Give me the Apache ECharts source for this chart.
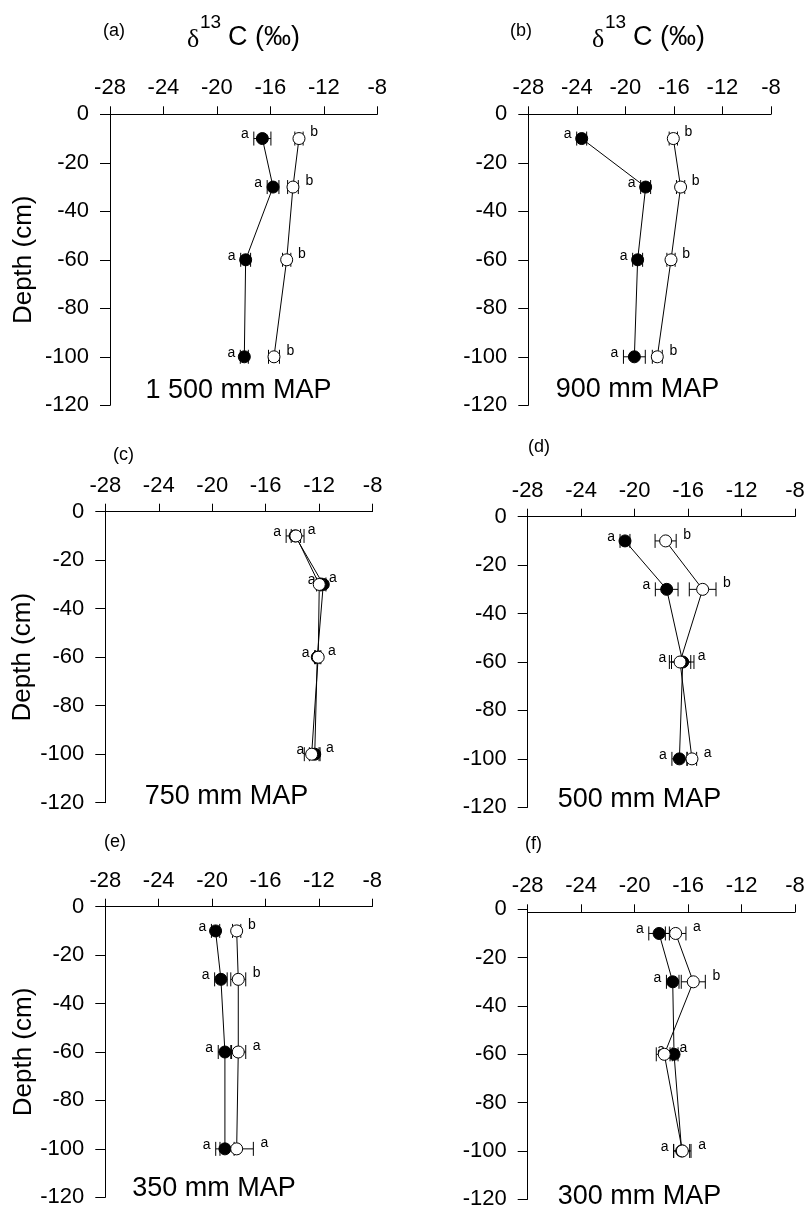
<!DOCTYPE html>
<html><head><meta charset="utf-8">
<script src="https://cdn.jsdelivr.net/npm/echarts@6/dist/echarts.min.js"></script>
<style>html,body{margin:0;padding:0;background:#fff}#c{width:806px;height:1211px}</style>
</head><body><div id="c"></div>
<script>
// ---------- DATA ----------
const depths = [-10, -30, -60, -100];
const panelIds = ['(a)', '(b)', '(c)', '(d)', '(e)', '(f)'];
const mapLabels = ['1 500 mm MAP', '900 mm MAP', '750 mm MAP', '500 mm MAP', '350 mm MAP', '300 mm MAP'];
const xMin = -28, xMax = -8, xStep = 4;
const yMin = -120, yMax = 0, yStep = 20;

// (a) 1500 mm MAP
const filledA = [-16.6, -15.8, -17.85, -17.95];
const filledErrA = [0.64, 0.44, 0.37, 0.3];
const openA = [-13.86, -14.31, -14.78, -15.73];
const openErrA = [0.31, 0.4, 0.31, 0.41];
const filledLetA = ['a', 'a', 'a', 'a'];
const openLetA = ['b', 'b', 'b', 'b'];
// (b) 900 mm MAP
const filledB = [-23.6, -18.33, -18.99, -19.26];
const filledErrB = [0.41, 0.41, 0.41, 0.9];
const openB = [-16.05, -15.45, -16.24, -17.37];
const openErrB = [0.34, 0.34, 0.34, 0.41];
const filledLetB = ['a', 'a', 'a', 'a'];
const openLetB = ['b', 'b', 'b', 'b'];
// (c) 750 mm MAP
const filledC = [-13.8, -11.69, -12.14, -12.33];
const filledErrC = [0.67, 0.2, 0.2, 0.4];
const openC = [-13.74, -11.99, -12.07, -12.56];
const openErrC = [0.35, 0.2, 0.2, 0.55];
const filledLetC = ['a', 'a', 'a', 'a'];
const openLetC = ['a', 'a', 'a', 'a'];
// (d) 500 mm MAP
const filledD = [-20.72, -17.6, -16.4, -16.65];
const filledErrD = [0.37, 0.85, 0.84, 0.56];
const openD = [-17.68, -14.91, -16.6, -15.71];
const openErrD = [0.79, 1.0, 0.8, 0.35];
const filledLetD = ['a', 'a', 'a', 'a'];
const openLetD = ['b', 'b', 'a', 'a'];
// (e) 350 mm MAP
const filledE = [-19.74, -19.34, -19.04, -19.04];
const filledErrE = [0.31, 0.47, 0.5, 0.69];
const openE = [-18.16, -18.04, -18.04, -18.16];
const openErrE = [0.31, 0.56, 0.56, 1.25];
const filledLetE = ['a', 'a', 'a', 'a'];
const openLetE = ['b', 'b', 'a', 'a'];
// (f) 300 mm MAP
const filledF = [-18.17, -17.15, -17.05, -16.48];
const filledErrF = [0.77, 0.47, 0.3, 0.6];
const openF = [-16.93, -15.61, -17.78, -16.43];
const openErrF = [0.77, 0.9, 0.6, 0.65];
const filledLetF = ['a', 'a', 'a', 'a'];
const openLetF = ['a', 'b', 'a', 'a'];

const panels = [
  {filled: filledA, fErr: filledErrA, open: openA, oErr: openErrA, fLet: filledLetA, oLet: openLetA},
  {filled: filledB, fErr: filledErrB, open: openB, oErr: openErrB, fLet: filledLetB, oLet: openLetB},
  {filled: filledC, fErr: filledErrC, open: openC, oErr: openErrC, fLet: filledLetC, oLet: openLetC},
  {filled: filledD, fErr: filledErrD, open: openD, oErr: openErrD, fLet: filledLetD, oLet: openLetD},
  {filled: filledE, fErr: filledErrE, open: openE, oErr: openErrE, fLet: filledLetE, oLet: openLetE},
  {filled: filledF, fErr: filledErrF, open: openF, oErr: openErrF, fLet: filledLetF, oLet: openLetF}
];

// ---------- LAYOUT ----------
const FONT = '"Liberation Sans", Arial, Helvetica, sans-serif';
const layout = [
  {left: 110, top: 114.3, width: 267.3, height: 291, idX: 103, idY: 32, title: 187, mapX: 238.5, mapY: 391, nameGap: 73},
  {left: 528.3, top: 114.3, width: 242.7, height: 291, idX: 510, idY: 32, title: 592, mapX: 637.5, mapY: 390},
  {left: 105.3, top: 511.7, width: 267.3, height: 291, idX: 113, idY: 456, mapX: 226.5, mapY: 797, nameGap: 69},
  {left: 527.7, top: 516.7, width: 267.3, height: 290.6, idX: 528, idY: 448, mapX: 639.5, mapY: 800},
  {left: 105.3, top: 906.7, width: 267, height: 290.6, idX: 104, idY: 843, mapX: 214, mapY: 1189, nameGap: 68},
  {left: 527.7, top: 909.3, width: 267.3, height: 290, idX: 525, idY: 845, mapX: 639.5, mapY: 1197, xOffset: -3}
];

function errRender(letters, side) {
  return function (params, api) {
    const v = api.value(0), d = api.value(1), e = api.value(2);
    const lo = api.coord([v - e, d]);
    const hi = api.coord([v + e, d]);
    const h = 7;
    const st = {stroke: '#000', lineWidth: 1};
    const lx = side < 0 ? lo[0] - 9 : hi[0] + 11;
    const ly = side < 0 ? lo[1] - 4 : hi[1] - 6;
    return {
      type: 'group',
      children: [
        {type: 'line', shape: {x1: lo[0], y1: lo[1], x2: hi[0], y2: hi[1]}, style: st},
        {type: 'line', shape: {x1: lo[0], y1: lo[1] - h, x2: lo[0], y2: lo[1] + h}, style: st},
        {type: 'line', shape: {x1: hi[0], y1: hi[1] - h, x2: hi[0], y2: hi[1] + h}, style: st},
        {type: 'text', style: {text: letters[params.dataIndex], x: lx, y: ly, fill: '#000',
          fontSize: 14, fontFamily: FONT, align: 'center', verticalAlign: 'middle'}}
      ]
    };
  };
}

const grid = [], xAxis = [], yAxis = [], series = [], graphic = [];
panels.forEach((p, i) => {
  const L = layout[i];
  grid.push({left: L.left, top: L.top, width: L.width, height: L.height, containLabel: false, outerBoundsMode: 'none'});
  xAxis.push({
    gridIndex: i, type: 'value', position: 'top', min: xMin, max: xMax, interval: xStep,
    offset: L.xOffset || 0,
    axisLine: {show: true, onZero: false, lineStyle: {color: '#000', width: 1}},
    axisTick: {show: true, length: 8, lineStyle: {color: '#000', width: 1}},
    axisLabel: {fontSize: 22, color: '#000', margin: 15, fontFamily: FONT},
    splitLine: {show: false}
  });
  yAxis.push({
    gridIndex: i, type: 'value', min: yMin, max: yMax, interval: yStep,
    axisLine: {show: true, onZero: false, lineStyle: {color: '#000', width: 1}},
    axisTick: {show: true, length: 10, lineStyle: {color: '#000', width: 1}},
    axisLabel: {fontSize: 22, color: '#000', margin: 21, fontFamily: FONT},
    splitLine: {show: false},
    name: L.nameGap ? 'Depth (cm)' : '',
    nameLocation: 'middle', nameRotate: 90, nameGap: L.nameGap || 0,
    nameTextStyle: {fontSize: 26, color: '#000', fontFamily: FONT}
  });
  const fData = p.filled.map((v, k) => [v, depths[k], p.fErr[k]]);
  const oData = p.open.map((v, k) => [v, depths[k], p.oErr[k]]);
  series.push({type: 'custom', xAxisIndex: i, yAxisIndex: i, z: 1, silent: true,
    renderItem: errRender(p.fLet, -1), data: fData, encode: {x: 0, y: 1}});
  series.push({type: 'custom', xAxisIndex: i, yAxisIndex: i, z: 1, silent: true,
    renderItem: errRender(p.oLet, 1), data: oData, encode: {x: 0, y: 1}});
  series.push({type: 'line', xAxisIndex: i, yAxisIndex: i, z: 2,
    data: p.filled.map((v, k) => [v, depths[k]]),
    symbol: 'circle', symbolSize: 12,
    itemStyle: {color: '#000', borderColor: '#000', borderWidth: 1},
    lineStyle: {color: '#000', width: 1}});
  series.push({type: 'line', xAxisIndex: i, yAxisIndex: i, z: 3,
    data: p.open.map((v, k) => [v, depths[k]]),
    symbol: 'circle', symbolSize: 12,
    itemStyle: {color: '#fff', borderColor: '#000', borderWidth: 1},
    lineStyle: {color: '#000', width: 1}});

  graphic.push({type: 'text', left: L.idX, top: L.idY - 10,
    style: {text: panelIds[i], fontSize: 18, fontFamily: FONT, fill: '#000'}});
  graphic.push({type: 'text', x: L.mapX, y: L.mapY,
    style: {text: mapLabels[i], fontSize: 27, fontFamily: FONT, fill: '#000', align: 'center', verticalAlign: 'middle'}});
  if (L.title) {
    const t = L.title;
    graphic.push({type: 'text', x: t, y: 40,
      style: {text: 'δ', fontSize: 26, fontFamily: '"Liberation Serif", "DejaVu Serif", serif', fill: '#000', verticalAlign: 'middle'}});
    graphic.push({type: 'text', x: t + 13, y: 23,
      style: {text: '13', fontSize: 19, fontFamily: FONT, fill: '#000', verticalAlign: 'middle'}});
    graphic.push({type: 'text', x: t + 41, y: 38,
      style: {text: 'C (‰)', fontSize: 27, fontFamily: FONT, fill: '#000', verticalAlign: 'middle'}});
  }
});

const chart = echarts.init(document.getElementById('c'), null, {renderer: 'canvas'});
chart.setOption({animation: false, backgroundColor: '#fff', grid, xAxis, yAxis, series, graphic});
</script></body></html>
